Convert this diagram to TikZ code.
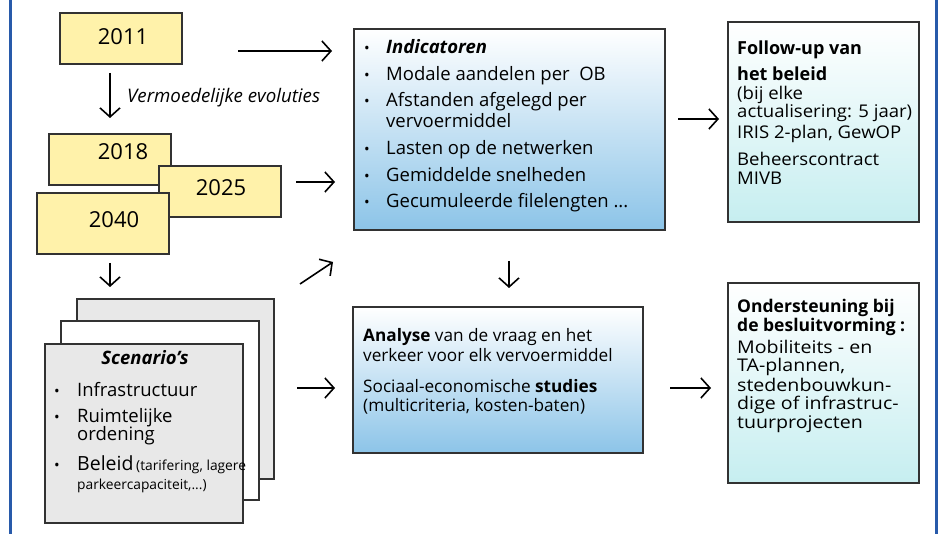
\documentclass[tikz,border=0pt]{standalone}
\usepackage{fontspec}
\setmainfont{Open Sans}
\newfontfamily\fufont[FakeStretch=1.06]{Open Sans}
\newfontfamily\onfont[FakeStretch=1.12]{Open Sans}
\usetikzlibrary{arrows.meta}
\definecolor{frameblue}{RGB}{40,90,170}
\definecolor{yearfill}{RGB}{255,242,170}
\definecolor{boxedge}{RGB}{50,50,50}
\definecolor{indblue}{RGB}{140,196,232}
\definecolor{fucyan}{RGB}{198,238,240}
\definecolor{scengray}{RGB}{232,232,232}
\begin{document}
\begin{tikzpicture}[x=1pt,y=-1pt,
  box/.style={draw=boxedge,line width=1.1pt,inner sep=0pt},
  yearbox/.style={box,fill=yearfill},
  yeartxt/.style={anchor=base,inner sep=0pt,font=\fontsize{22}{26}\selectfont},
  txt/.style={anchor=base west,inner sep=0pt,font=\fontsize{18.5}{20}\selectfont},
  tight/.style={text height=12pt,text depth=3pt},
  antxt/.style={anchor=base west,inner sep=0pt,tight,font=\fontsize{17.2}{20}\selectfont},
  futxt/.style={anchor=base west,inner sep=0pt,tight,font=\fufont\fontsize{17.5}{20}\selectfont},
  ontxt/.style={anchor=base west,inner sep=0pt,tight,font=\onfont\fontsize{17.5}{20}\selectfont},
  headtxt/.style={anchor=base west,inner sep=0pt,tight,font=\fontsize{17.5}{20}\selectfont\bfseries},
  smalltxt/.style={anchor=base west,inner sep=0pt,font=\fontsize{13.8}{15}\selectfont},
  bul/.style={anchor=base,inner sep=0pt,font=\fontsize{15}{16}\selectfont},
  arr/.style={line width=1.6pt,-{Straight Barb[length=9pt,width=20pt,line width=1.6pt]}}
]
\useasboundingbox (0,0) rectangle (942,534);
% frame lines
\draw[frameblue,line width=2.5pt] (10.5,0) -- (10.5,534);
\draw[frameblue,line width=2.5pt] (936.5,0) -- (936.5,534);

% year boxes
\node[yearbox,minimum width=122pt,minimum height=51pt] (b2011) at (121,38.5) {};
\node[yeartxt] (t2011) at (123,45) {2011};
\node[yearbox,minimum width=122pt,minimum height=51pt] (b2018) at (110,159.5) {};
\node[yeartxt] (t2018) at (123,160) {2018};
\node[yearbox,minimum width=122pt,minimum height=51pt] (b2025) at (220,191.5) {};
\node[yeartxt] (t2025) at (221,196) {2025};
\node[yearbox,minimum width=132pt,minimum height=61pt] (b2040) at (103,223.5) {};
\node[yeartxt] (t2040) at (114,228) {2040};

% scenario stack
\node[box,fill=scengray,minimum width=197pt,minimum height=180pt] (sback) at (175.5,389) {};
\node[box,fill=white,minimum width=198pt,minimum height=179pt] (smid) at (160,410.5) {};
\node[box,fill=scengray,minimum width=198pt,minimum height=179pt] (sfront) at (144,433.5) {};
\node[anchor=base,inner sep=0pt,font=\fontsize{18.5}{20}\selectfont\bfseries\itshape] (stitle) at (145,365) {Scenario’s};
\node[bul] (sb1) at (57,396) {•};
\node[txt] (s1) at (77,396) {Infrastructuur};
\node[bul] (sb2) at (57,422) {•};
\node[txt,tight] (s2) at (77,422) {Ruimtelijke};
\node[txt,tight] (s2b) at (77,440) {ordening};
\node[bul] (sb3) at (57,470) {•};
\node[txt,tight,font=\fontsize{19.5}{20}\selectfont] (s3) at (77,470) {Beleid};
\node[smalltxt,tight] (s3a) at (s3.base east) {\,(tarifering, lagere};
\node[smalltxt,text height=10pt,text depth=3pt] (s3b) at (77,489) {parkeercapaciteit,...)};

% indicators box
\node[box,top color=white,bottom color=indblue,minimum width=311pt,minimum height=201pt] (ind) at (509.5,129.5) {};
\node[bul] (ib1) at (367,54) {•};
\node[txt,font=\fontsize{18.5}{20}\selectfont\bfseries\itshape] (i1) at (386,54) {Indicatoren};
\node[bul] (ib2) at (367,81) {•};
\node[txt] (i2) at (386,81) {Modale aandelen per\ \ OB};
\node[bul] (ib3) at (367,107) {•};
\node[txt,tight] (i3) at (386,107) {Afstanden afgelegd per};
\node[txt,tight] (i3b) at (386,128) {vervoermiddel};
\node[bul] (ib4) at (367,155) {•};
\node[txt] (i4) at (386,155) {Lasten op de netwerken};
\node[bul] (ib5) at (367,182) {•};
\node[txt] (i5) at (386,182) {Gemiddelde snelheden};
\node[bul] (ib6) at (367,208) {•};
\node[txt] (i6) at (386,208) {Gecumuleerde filelengten ...};

% follow-up box
\node[box,top color=white,bottom color=fucyan,minimum width=191pt,minimum height=200pt] (fu) at (823.5,122) {};
\node[headtxt,font=\fontsize{18}{20}\selectfont\bfseries] (f1) at (737,55) {Follow-up van};
\node[headtxt,font=\fontsize{18}{20}\selectfont\bfseries] (f2) at (737,81) {het beleid};
\node[futxt] (f3) at (737,100) {(bij elke};
\node[futxt] (f4) at (737,118) {actualisering: 5 jaar)};
\node[futxt] (f5) at (737,139) {IRIS 2-plan, GewOP};
\node[futxt] (f6) at (737,166) {Beheerscontract};
\node[futxt] (f7) at (737,185) {MIVB};

% analysis box
\node[box,top color=white,bottom color=indblue,minimum width=290pt,minimum height=146pt] (an) at (498,380) {};
\node[antxt] (a1) at (363,342) {\textbf{Analyse} van de vraag en het};
\node[antxt] (a2) at (363,362) {verkeer voor elk vervoermiddel};
\node[antxt] (a3) at (363,392) {Sociaal-economische \textbf{studies}};
\node[antxt] (a4) at (363,411) {(multicriteria, kosten-baten)};

% ondersteuning box
\node[box,top color=white,bottom color=fucyan,minimum width=191pt,minimum height=200pt] (on) at (823.5,383) {};
\node[headtxt] (o1) at (737,313) {Ondersteuning bij};
\node[headtxt] (o2) at (737,332) {de besluitvorming :};
\node[ontxt] (o3) at (737,353) {Mobiliteits - en};
\node[ontxt] (o4) at (737,371) {TA-plannen,};
\node[ontxt] (o5) at (737,391) {stedenbouwkun-};
\node[ontxt] (o6) at (737,409) {dige of infrastruc-};
\node[ontxt] (o7) at (737,428) {tuurprojecten};

% arrow coordinates
\coordinate (p1s) at (238,51);  \coordinate (p1e) at (332,51);
\coordinate (p2s) at (110,73);  \coordinate (p2e) at (110,118);
\coordinate (p3s) at (296,182); \coordinate (p3e) at (335,182);
\coordinate (p4s) at (110,263); \coordinate (p4e) at (110,287);
\coordinate (p5s) at (300,284); \coordinate (p5e) at (333,262);
\coordinate (p6s) at (297,388); \coordinate (p6e) at (335,388);
\coordinate (p7s) at (509,261); \coordinate (p7e) at (509,288);
\coordinate (p8s) at (678,119); \coordinate (p8e) at (719,119);
\coordinate (p9s) at (670,388); \coordinate (p9e) at (711,388);

\draw[arr] (p1s) -- (p1e);
\draw[arr] (p2s) -- (p2e);
\node[anchor=base west,inner sep=0pt,font=\fontsize{18.7}{20}\selectfont\itshape] (evol) at (127,103) {Vermoedelijke evoluties};
\draw[arr] (p3s) -- (p3e);
\draw[arr] (p4s) -- (p4e);
\draw[arr] (p5s) -- (p5e);
\draw[arr] (p6s) -- (p6e);
\draw[arr] (p7s) -- (p7e);
\draw[arr] (p8s) -- (p8e);
\draw[arr] (p9s) -- (p9e);
\end{tikzpicture}
\end{document}
